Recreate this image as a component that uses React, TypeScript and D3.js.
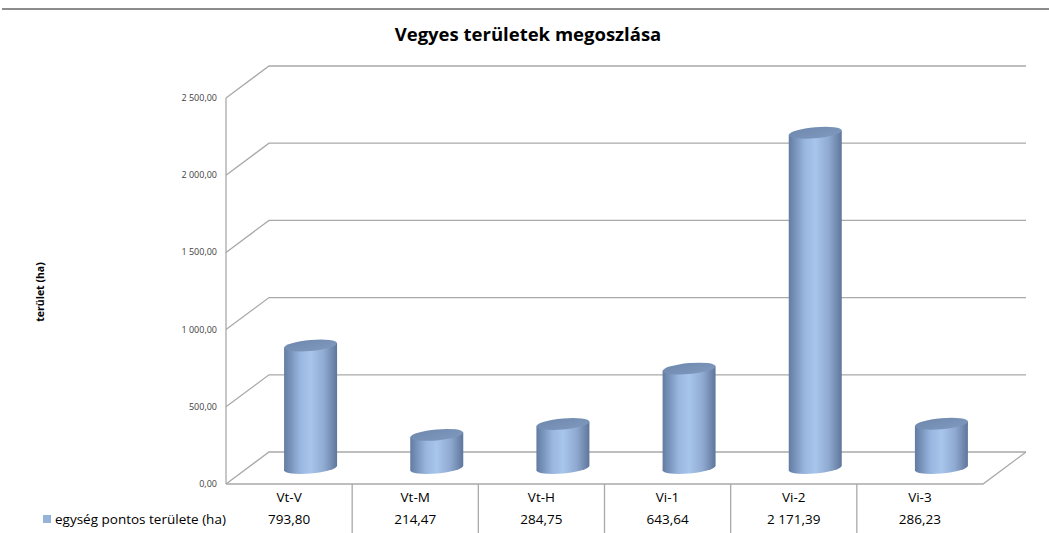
import React, { useEffect } from "react";
import * as d3 from "d3";

const categories = ["Vt-V", "Vt-M", "Vt-H", "Vi-1", "Vi-2", "Vi-3"];
const values = [793.8, 214.47, 284.75, 643.64, 2171.39, 286.23];
const yTicks = [0, 500, 1000, 1500, 2000, 2500];
const seriesName = "egység pontos területe (ha)";
const title = "Vegyes területek megoszlása";
const yTitle = "terület (ha)";

const W = 1049;
const H = 533;
const FONT = "'Open Sans', 'Liberation Sans', sans-serif";

// hungarian number format: 2 171,39
const hu = d3.formatLocale({ decimal: ",", thousands: " ", grouping: [3], currency: ["", " Ft"] });
const fmt = hu.format(",.2f");

export default function App() {
  useEffect(() => {
    document.body.style.margin = "0";
  }, []);

  // front plane of the 3d box
  const x = d3.scaleBand().domain(categories).range([226, 983]).padding(0);
  const y = d3.scaleLinear().domain([0, 2500]).range([484, 98]);
  const depth = { dx: 43, dy: -32 };
  const grid = "#a9a9a9";

  const rx = 26.5;
  const ry = 5.5;

  return (
    <svg width={W} height={H} style={{ display: "block" }}>
      <defs>
        <linearGradient id="body" x1="0" x2="1" y1="0" y2="0">
          <stop offset="0" stopColor="#627ba1" />
          <stop offset="0.3" stopColor="#98b6df" />
          <stop offset="0.5" stopColor="#a8c5ec" />
          <stop offset="0.75" stopColor="#90abd2" />
          <stop offset="1" stopColor="#5f769b" />
        </linearGradient>
        <linearGradient id="top" x1="0" x2="1" y1="0" y2="1">
          <stop offset="0" stopColor="#6f88ad" />
          <stop offset="1" stopColor="#7f98bd" />
        </linearGradient>
      </defs>

      <line x1={2} x2={W} y1={9} y2={9} stroke="#8c8c8c" strokeWidth={2} />

      <text x={528} y={41} textAnchor="middle" fontFamily={FONT} fontWeight="bold" fontSize={18.5} fill="#000">
        {title}
      </text>

      {/* walls and gridlines */}
      <g fill="none" stroke={grid} strokeWidth={1.3}>
        {yTicks.map((t) => (
          <polyline
            key={t}
            points={`${x.range()[0]},${y(t)} ${x.range()[0] + depth.dx},${y(t) + depth.dy} ${x.range()[1] + depth.dx},${y(t) + depth.dy}`}
          />
        ))}
        <line x1={x.range()[0]} x2={x.range()[0]} y1={y(0)} y2={y(2500)} />
        <polyline points={`${x.range()[0]},${y(0)} ${x.range()[1]},${y(0)} ${x.range()[1] + depth.dx},${y(0) + depth.dy}`} />
      </g>

      {/* tick labels */}
      <g fontFamily={FONT} fontSize={9} fill="#404040" textAnchor="end">
        {yTicks.map((t) => (
          <text key={t} x={217} y={y(t) + 3}>
            {fmt(t)}
          </text>
        ))}
      </g>

      <text
        transform={`translate(44,292) rotate(-90)`}
        textAnchor="middle"
        fontFamily={FONT}
        fontWeight="bold"
        fontSize={10.5}
        fill="#000"
      >
        {yTitle}
      </text>

      {/* cylinders */}
      {categories.map((c, i) => {
        const cx = x(c)! + x.bandwidth() / 2 + depth.dx / 2;
        const yb = y(0) + depth.dy / 2;
        const yt = y(values[i]) + depth.dy / 2;
        return (
          <g key={c} transform={`translate(${cx},0) skewY(-5)`}>
            <path
              d={`M${-rx},${yt} L${-rx},${yb} A${rx},${ry} 0 0 0 ${rx},${yb} L${rx},${yt} Z`}
              fill="url(#body)"
            />
            <ellipse cx={0} cy={yt} rx={rx} ry={ry} fill="url(#top)" />
          </g>
        );
      })}

      {/* data table */}
      <g stroke={grid} strokeWidth={1.3}>
        {categories.slice(1).map((c) => (
          <line key={c} x1={x(c)} x2={x(c)} y1={y(0)} y2={H} />
        ))}
      </g>
      <g fontFamily={FONT} fontSize={13.5} fill="#000" textAnchor="middle">
        {categories.map((c, i) => (
          <g key={c}>
            <text x={x(c)! + x.bandwidth() / 2} y={502}>
              {c}
            </text>
            <text x={x(c)! + x.bandwidth() / 2} y={524}>
              {fmt(values[i])}
            </text>
          </g>
        ))}
      </g>
      <rect x={43} y={515} width={8} height={8} fill="#95b3d7" />
      <text x={55} y={524} fontFamily={FONT} fontSize={13.5} fill="#000">
        {seriesName}
      </text>
    </svg>
  );
}
